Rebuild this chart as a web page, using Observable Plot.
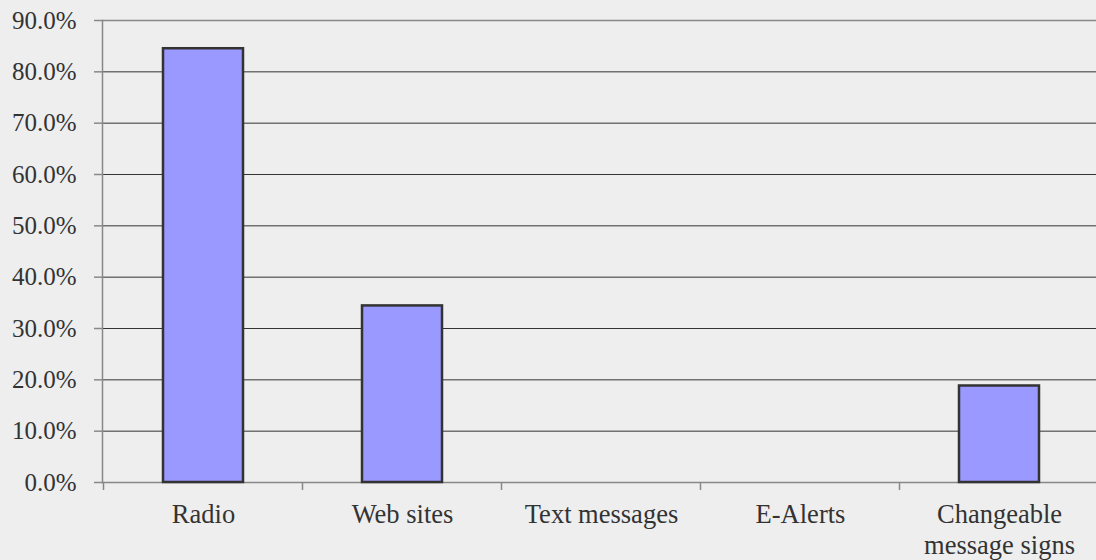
<!DOCTYPE html>
<html>
<head>
<meta charset="utf-8">
<script src="https://cdn.jsdelivr.net/npm/d3@7"></script>
<script src="https://cdn.jsdelivr.net/npm/@observablehq/plot@0.6"></script>
<style>
  html, body { margin: 0; padding: 0; background: #eeeeee; }
  #chart svg { display: block; }
  #chart svg text { font-family: "Liberation Serif", "Times New Roman", serif; }
</style>
</head>
<body>
<div id="chart"></div>
<script>
const categories = ["Radio", "Web sites", "Text messages", "E-Alerts", "Changeable message signs"];
const categoryLabels = ["Radio", "Web sites", "Text messages", "E-Alerts", "Changeable\nmessage signs"];
const values = [84.5, 34.4, 0, 0, 18.8];
const yTicks = [0, 10, 20, 30, 40, 50, 60, 70, 80, 90];

const data = categories.map((c, i) => ({category: c, value: values[i]}));
const labelOf = new Map(categories.map((c, i) => [c, categoryLabels[i]]));

const font = "'Liberation Serif', 'Times New Roman', serif";

const chart = Plot.plot({
  width: 1096,
  height: 560,
  marginLeft: 102,
  marginRight: 0,
  marginTop: 20,
  marginBottom: 78,
  style: {background: "#eeeeee", fontFamily: font, fontSize: "25px", color: "#333"},
  x: {domain: categories, range: [102, 1100], paddingInner: 0.6, paddingOuter: 0.3},
  y: {domain: [0, 90]},
  marks: [
    Plot.ruleY(yTicks.filter(t => t > 0 && t < 90), {stroke: "#333", strokeWidth: 1}),
    Plot.ruleY([0, 90], {stroke: "#888", strokeWidth: 1.5}),
    Plot.barY(data, {x: "category", y: "value", filter: d => d.value > 0, fill: "#9999ff", stroke: "#333", strokeWidth: 2.5}),
    Plot.frame({anchor: "left", stroke: "#888", strokeWidth: 1.5}),
    Plot.axisY({ticks: yTicks, tickSize: 8, tickPadding: 18, stroke: "#888", strokeWidth: 1.5,
      tickFormat: d => d.toFixed(1) + "%", fill: "#333", fontSize: 25, fontFamily: font, label: null}),
    Plot.axisX({tickSize: 0, tickPadding: 18, tickFormat: d => labelOf.get(d), fill: "#333",
      fontSize: 26.5, fontFamily: font, lineHeight: 1.17, label: null})
  ]
});

document.getElementById("chart").appendChild(chart);

// band-boundary tick marks on the x axis, from the library's scales
const sx = chart.scale("x");
const sy = chart.scale("y");
const gap = (sx.step - sx.bandwidth) / 2;
const bounds = categories.map(c => sx.apply(c) - gap);
bounds.push(sx.apply(categories[categories.length - 1]) + sx.bandwidth + gap);
const y0 = sy.apply(0);
d3.select(chart).append("g")
  .selectAll("line").data(bounds).join("line")
  .attr("x1", d => d).attr("x2", d => d)
  .attr("y1", y0).attr("y2", y0 + 8)
  .attr("stroke", "#888").attr("stroke-width", 1.5);
</script>
</body>
</html>
